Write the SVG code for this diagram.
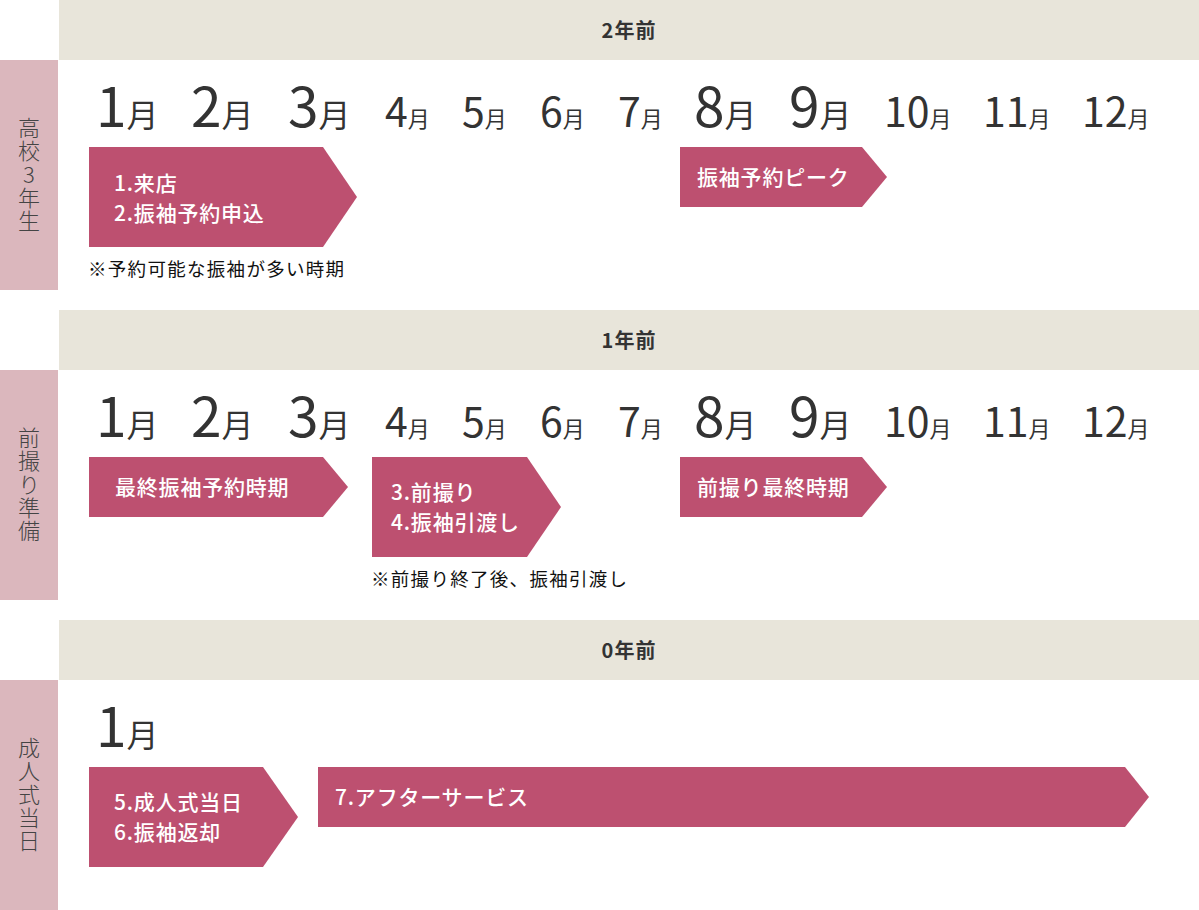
<svg xmlns="http://www.w3.org/2000/svg" width="1199" height="910" viewBox="0 0 1199 910">
<style>
.hdr{fill:#e8e5da}
.side{fill:#dbb7bd}
.arrow{fill:#bd5070}
text{font-family:"Noto Sans CJK JP","Noto Sans",sans-serif}
.ht{font-size:20px;font-weight:700;fill:#333;text-anchor:middle;letter-spacing:1px}
.vt{font-size:22px;fill:#444;text-anchor:middle;font-weight:300;writing-mode:vertical-rl;text-orientation:upright;letter-spacing:1.3px}
.m{fill:#333}
.bd{font-size:55px;font-weight:400}
.bm{font-size:32px;font-weight:400}
.sd{font-size:41px;font-weight:400}
.sm{font-size:22px;font-weight:400}
.at{font-size:21px;fill:#fff;letter-spacing:0.8px;font-weight:500}
.note{font-size:18.5px;fill:#111;letter-spacing:1.3px;font-weight:400}
</style>
<g id="headers">
<rect class="hdr" x="59" y="0" width="1140" height="60"/>
<text class="ht" x="629" y="38">2年前</text>
<rect class="hdr" x="59" y="310" width="1140" height="60"/>
<text class="ht" x="629" y="348">1年前</text>
<rect class="hdr" x="59" y="620" width="1140" height="60"/>
<text class="ht" x="629" y="658">0年前</text>
</g>
<g id="side-labels">
<rect class="side" x="0" y="60" width="58" height="230"/>
<text class="vt" x="29" y="175">高校3年生</text>
<rect class="side" x="0" y="370" width="58" height="230"/>
<text class="vt" x="29" y="485">前撮り準備</text>
<rect class="side" x="0" y="680" width="58" height="230"/>
<text class="vt" x="29" y="795">成人式当日</text>
</g>
<g id="months-2y">
<text class="m" x="96" y="127"><tspan class="bd">1</tspan><tspan class="bm">月</tspan></text>
<text class="m" x="191" y="127"><tspan class="bd">2</tspan><tspan class="bm">月</tspan></text>
<text class="m" x="288" y="127"><tspan class="bd">3</tspan><tspan class="bm">月</tspan></text>
<text class="m" x="385" y="127"><tspan class="sd">4</tspan><tspan class="sm">月</tspan></text>
<text class="m" x="462" y="127"><tspan class="sd">5</tspan><tspan class="sm">月</tspan></text>
<text class="m" x="540" y="127"><tspan class="sd">6</tspan><tspan class="sm">月</tspan></text>
<text class="m" x="618" y="127"><tspan class="sd">7</tspan><tspan class="sm">月</tspan></text>
<text class="m" x="694" y="127"><tspan class="bd">8</tspan><tspan class="bm">月</tspan></text>
<text class="m" x="789" y="127"><tspan class="bd">9</tspan><tspan class="bm">月</tspan></text>
<text class="m" x="884" y="127"><tspan class="sd">10</tspan><tspan class="sm">月</tspan></text>
<text class="m" x="983" y="127"><tspan class="sd">11</tspan><tspan class="sm">月</tspan></text>
<text class="m" x="1082" y="127"><tspan class="sd">12</tspan><tspan class="sm">月</tspan></text>
</g>
<g id="months-1y">
<text class="m" x="96" y="437"><tspan class="bd">1</tspan><tspan class="bm">月</tspan></text>
<text class="m" x="191" y="437"><tspan class="bd">2</tspan><tspan class="bm">月</tspan></text>
<text class="m" x="288" y="437"><tspan class="bd">3</tspan><tspan class="bm">月</tspan></text>
<text class="m" x="385" y="437"><tspan class="sd">4</tspan><tspan class="sm">月</tspan></text>
<text class="m" x="462" y="437"><tspan class="sd">5</tspan><tspan class="sm">月</tspan></text>
<text class="m" x="540" y="437"><tspan class="sd">6</tspan><tspan class="sm">月</tspan></text>
<text class="m" x="618" y="437"><tspan class="sd">7</tspan><tspan class="sm">月</tspan></text>
<text class="m" x="694" y="437"><tspan class="bd">8</tspan><tspan class="bm">月</tspan></text>
<text class="m" x="789" y="437"><tspan class="bd">9</tspan><tspan class="bm">月</tspan></text>
<text class="m" x="884" y="437"><tspan class="sd">10</tspan><tspan class="sm">月</tspan></text>
<text class="m" x="983" y="437"><tspan class="sd">11</tspan><tspan class="sm">月</tspan></text>
<text class="m" x="1082" y="437"><tspan class="sd">12</tspan><tspan class="sm">月</tspan></text>
</g>
<g id="months-0y">
<text class="m" x="96" y="747"><tspan class="bd">1</tspan><tspan class="bm">月</tspan></text>
</g>
<g id="step-1-2">
<polygon class="arrow" points="89,147 323,147 357,197 323,247 89,247"/>
<text class="at"><tspan x="114" y="191">1.来店</tspan><tspan x="114" y="221">2.振袖予約申込</tspan></text>
</g>
<text id="note-1" class="note" x="88" y="276">※予約可能な振袖が多い時期</text>
<g id="peak">
<polygon class="arrow" points="680,147 862,147 887,177 862,207 680,207"/>
<text class="at" x="697" y="185">振袖予約ピーク</text>
</g>
<g id="last-booking">
<polygon class="arrow" points="89,457 323,457 348,487 323,517 89,517"/>
<text class="at" x="115" y="495">最終振袖予約時期</text>
</g>
<g id="step-3-4">
<polygon class="arrow" points="372,457 527,457 561,507 527,557 372,557"/>
<text class="at"><tspan x="391" y="500">3.前撮り</tspan><tspan x="391" y="530">4.振袖引渡し</tspan></text>
</g>
<text id="note-2" class="note" x="371" y="586">※前撮り終了後、振袖引渡し</text>
<g id="last-photo">
<polygon class="arrow" points="680,457 862,457 887,487 862,517 680,517"/>
<text class="at" x="697" y="495">前撮り最終時期</text>
</g>
<g id="step-5-6">
<polygon class="arrow" points="89,767 263,767 298,817 263,867 89,867"/>
<text class="at"><tspan x="114" y="810">5.成人式当日</tspan><tspan x="114" y="840">6.振袖返却</tspan></text>
</g>
<g id="step-7">
<polygon class="arrow" points="318,767 1125,767 1149,797 1125,827 318,827"/>
<text class="at" x="335" y="805">7.アフターサービス</text>
</g>
<g id="connectors"/>
</svg>
